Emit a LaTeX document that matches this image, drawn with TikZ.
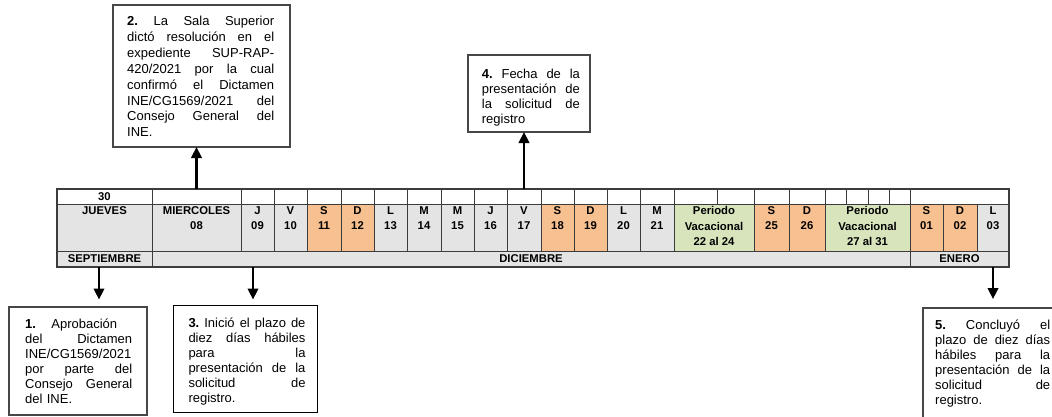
\documentclass[tikz,border=0pt]{standalone}
\usepackage{fontspec}
\setmainfont{Liberation Sans}
\usetikzlibrary{arrows.meta}
\definecolor{cgray}{RGB}{228,228,228}
\definecolor{corange}{RGB}{247,192,144}
\definecolor{cgreen}{RGB}{216,228,188}
\definecolor{cline}{RGB}{60,60,60}
\newcommand\dcell[5]{%
  \node[cell, fill=#4, minimum width={#3-#2}, minimum height=47, anchor=north west] (#1) at (#2,204) {};
  \node[dtxt, anchor=north, yshift=-2.6pt] (#1t) at (#1.north) {#5};}
\newcommand\jl[2]{\leavevmode\hbox to #1pt{#2}}
\begin{document}
\begin{tikzpicture}[x=1pt,y=-1pt,
  cell/.style={rectangle, draw=cline, line width=0.8pt, inner sep=0pt, outer sep=0pt},
  dtxt/.style={inner sep=0pt, align=center, font=\fontsize{11.3}{15.3}\selectfont\bfseries},
  ctxt/.style={font=\fontsize{11.3}{13}\selectfont\bfseries},
  boxst/.style={rectangle, draw=black!72, line width=1.3pt, inner sep=0pt, outer sep=0pt, fill=white, anchor=north west},
  btxt/.style={inner sep=0pt, align=left, anchor=base west, font=\fontsize{13}{15}\selectfont},
  arr/.style={line width=2.4pt, -{Triangle[width=10.5pt,length=11pt]}}]
\useasboundingbox (0,0) rectangle (1052,416);
\clip (0,0) rectangle (1052,416);
\fill[white] (0,0) rectangle (1052,416);
% row 1
\foreach \a/\b [count=\i] in {57/152,152/241,241/274,274/307,307/341,341/374,374/407,407/441,441/474,474/507,507/541,541/574,574/607,607/640,640/674,674/717,717/754,754/789,789/825,825/846,846/868,868/889,889/910,910/1009}
  {\node[cell, fill=white, minimum width={\b-\a}, minimum height=15, anchor=north west] (t\i) at (\a,189) {};}
\node[ctxt] (t1t) at (t1) {30};
% row 2
\dcell{d1}{57}{152}{cgray}{JUEVES}
\dcell{d2}{152}{241}{cgray}{MIERCOLES\\08}
\dcell{d3}{241}{274}{cgray}{J\\09}
\dcell{d4}{274}{307}{cgray}{V\\10}
\dcell{d5}{307}{341}{corange}{S\\11}
\dcell{d6}{341}{374}{corange}{D\\12}
\dcell{d7}{374}{407}{cgray}{L\\13}
\dcell{d8}{407}{441}{cgray}{M\\14}
\dcell{d9}{441}{474}{cgray}{M\\15}
\dcell{d10}{474}{507}{cgray}{J\\16}
\dcell{d11}{507}{541}{cgray}{V\\17}
\dcell{d12}{541}{574}{corange}{S\\18}
\dcell{d13}{574}{607}{corange}{D\\19}
\dcell{d14}{607}{640}{cgray}{L\\20}
\dcell{d15}{640}{674}{cgray}{M\\21}
\dcell{d16}{674}{754}{cgreen}{Periodo\\Vacacional\\22 al 24}
\dcell{d17}{754}{789}{corange}{S\\25}
\dcell{d18}{789}{825}{corange}{D\\26}
\dcell{d19}{825}{910}{cgreen}{Periodo\\Vacacional\\27 al 31}
\dcell{d20}{910}{943}{corange}{S\\01}
\dcell{d21}{943}{977}{corange}{D\\02}
\dcell{d22}{977}{1009}{cgray}{L\\03}
% row 3
\node[cell, fill=cgray, minimum width=95, minimum height=16, anchor=north west, ctxt] (m1) at (57,251) {SEPTIEMBRE};
\node[cell, fill=cgray, minimum width=758, minimum height=16, anchor=north west, ctxt] (m2) at (152,251) {DICIEMBRE};
\node[cell, fill=cgray, minimum width=99, minimum height=16, anchor=north west, ctxt] (m3) at (910,251) {ENERO};
\draw[cline, line width=1.2pt] (57,189) rectangle (1009,267);
% boxes
\node[boxst, minimum width=138, minimum height=108] (box1) at (9,307) {};
\node[boxst, minimum width=177, minimum height=142] (box2) at (113,5) {};
\node[boxst, draw=black, line width=1pt, minimum width=144, minimum height=107] (box3) at (173,305) {};
\node[boxst, minimum width=122, minimum height=77] (box4) at (468,55) {};
\node[boxst, minimum width=145, minimum height=112] (box5) at (923,308) {};
\node[btxt, text width=107pt] (box1t) at (25,328) {\jl{92}{\textbf{1.}\hfill Aprobación}\\ \jl{107}{del\hfill Dictamen}\\ \jl{107}{INE/CG1569/2021\hfill}\\ \jl{107}{por\hfill parte\hfill del}\\ \jl{107}{Consejo\hfill General}\\ del INE.};
\node[btxt, text width=147pt, font=\fontsize{13}{15.9}\selectfont] (box2t) at (127,25.5) {\jl{147}{\textbf{2.}\hfill La\hfill Sala\hfill Superior}\\ \jl{147}{dictó\hfill resolución\hfill en\hfill el}\\ \jl{147}{expediente\hfill SUP-RAP-}\\ \jl{147}{420/2021\hfill por\hfill la\hfill cual}\\ \jl{147}{confirmó\hfill el\hfill Dictamen}\\ \jl{147}{INE/CG1569/2021\hfill del}\\ \jl{147}{Consejo\hfill General\hfill del}\\ INE.};
\node[btxt, text width=117pt] (box3t) at (188.3,327) {\jl{117}{\textbf{3.}\hfill Inició\hfill el\hfill plazo\hfill de}\\ \jl{117}{diez\hfill días\hfill hábiles}\\ \jl{117}{para\hfill la}\\ \jl{117}{presentación\hfill de\hfill la}\\ \jl{117}{solicitud\hfill de}\\ registro.};
\node[btxt, text width=98pt] (box4t) at (481.7,78) {\jl{98}{\textbf{4.}\hfill Fecha\hfill de\hfill la}\\ \jl{98}{presentación\hfill de}\\ \jl{98}{la\hfill solicitud\hfill de}\\ registro};
\node[btxt, text width=115pt] (box5t) at (935,329) {\jl{115}{\textbf{5.}\hfill Concluyó\hfill el}\\ \jl{115}{plazo\hfill de\hfill diez\hfill días}\\ \jl{115}{hábiles\hfill para\hfill la}\\ \jl{115}{presentación\hfill de\hfill la}\\ \jl{115}{solicitud\hfill de}\\ registro.};
% arrows
\coordinate (a1) at (99,267);
\coordinate (a3) at (253,267);
\coordinate (a5) at (993,267);
\draw[arr] (t2.north) -- (t2.north |- box2.south);
\draw[arr] (t11.north) -- (t11.north |- box4.south);
\draw[arr, shorten >=7.5pt] (a1) -- (a1 |- box1.north);
\draw[arr, shorten >=5.5pt] (a3) -- (a3 |- box3.north);
\draw[arr, shorten >=9pt] (a5) -- (a5 |- box5.north);
\end{tikzpicture}
\end{document}
